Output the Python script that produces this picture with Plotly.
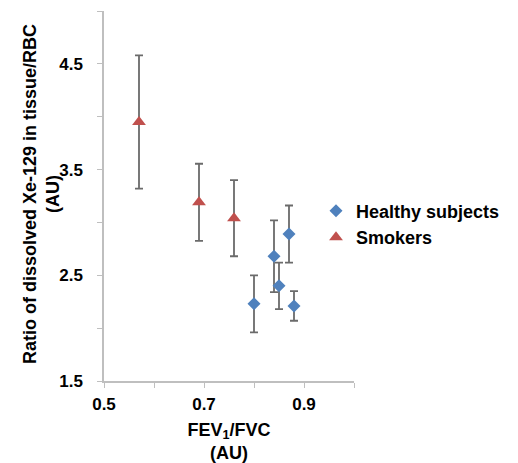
import plotly.graph_objects as go

# Data
healthy_x = [0.80, 0.84, 0.85, 0.87, 0.88]
healthy_y = [2.23, 2.68, 2.40, 2.89, 2.21]
healthy_err = [0.27, 0.34, 0.22, 0.27, 0.14]

smokers_x = [0.57, 0.69, 0.76]
smokers_y = [3.95, 3.19, 3.04]
smokers_err = [0.63, 0.365, 0.36]

x_tick_labels = [0.5, 0.7, 0.9]
y_tick_labels = [1.5, 2.5, 3.5, 4.5]

FONT = "Arial, Liberation Sans, sans-serif"
AXIS_COLOR = "#bfbfbf"
ERR_COLOR = "#6b6b6b"

fig = go.Figure()

fig.add_trace(go.Scatter(
    x=healthy_x, y=healthy_y, mode="markers", name="<b>Healthy subjects</b>",
    legendgroup="h",
    marker=dict(symbol="diamond", size=10, color="#4f81bd"),
    error_y=dict(type="data", array=healthy_err, color=ERR_COLOR, thickness=1.8, width=4),
))
fig.add_trace(go.Scatter(
    x=smokers_x, y=smokers_y, mode="markers", name="<b>Smokers</b>",
    legendgroup="s",
    marker=dict(symbol="triangle-up", size=12, color="#c0504d"),
    error_y=dict(type="data", array=smokers_err, color=ERR_COLOR, thickness=1.8, width=4),
))

# page body has an 8px default margin, so the figure is 8px smaller and shifted
fig.update_layout(
    width=510, height=455,
    margin=dict(l=96, r=164, t=3, b=82),
    paper_bgcolor="white", plot_bgcolor="white",
    font=dict(family=FONT, size=17, color="black"),
    showlegend=True,
    legend=dict(x=0.848, y=0.424, xanchor="left", yanchor="middle",
                font=dict(family=FONT, size=18, color="black"),
                bgcolor="rgba(0,0,0,0)", itemwidth=30, tracegroupgap=0),
    xaxis=dict(
        range=[0.5, 1.0], tickvals=x_tick_labels,
        ticktext=[f"<b>{v:.1f}</b>" for v in x_tick_labels],
        showgrid=False, zeroline=False, showline=True, linecolor=AXIS_COLOR, linewidth=1.5,
        ticks="outside", ticklen=5, tickcolor=AXIS_COLOR, tickwidth=1,
        minor=dict(dtick=0.1, tick0=0.5, ticks="outside", ticklen=5, tickcolor=AXIS_COLOR, showgrid=False),
        tickfont=dict(size=17), ticklabelstandoff=2,
        automargin=False,
        title=dict(text="<b>FEV<sub>1</sub>/FVC<br>(AU)</b>", font=dict(size=18), standoff=20),
    ),
    yaxis=dict(
        range=[1.5, 5.0], tickvals=y_tick_labels,
        ticktext=[f"<b>{v:.1f}</b>" for v in y_tick_labels],
        showgrid=False, zeroline=False, showline=True, linecolor=AXIS_COLOR, linewidth=1.5,
        ticks="outside", ticklen=5, tickcolor=AXIS_COLOR, tickwidth=1,
        minor=dict(dtick=0.5, tick0=1.5, ticks="outside", ticklen=5, tickcolor=AXIS_COLOR, showgrid=False),
        tickfont=dict(size=17), ticklabelstandoff=11,
        automargin=False,
    ),
    annotations=[dict(
        text="<b>Ratio of dissolved Xe-129 in tissue/RBC<br>(AU)</b>",
        xref="paper", yref="paper", x=0, y=0.5, xanchor="center", yanchor="middle",
        xshift=-63, yshift=2, textangle=-90, showarrow=False,
        font=dict(family=FONT, size=18, color="black"),
    )],
)

fig.write_html("out.html")
